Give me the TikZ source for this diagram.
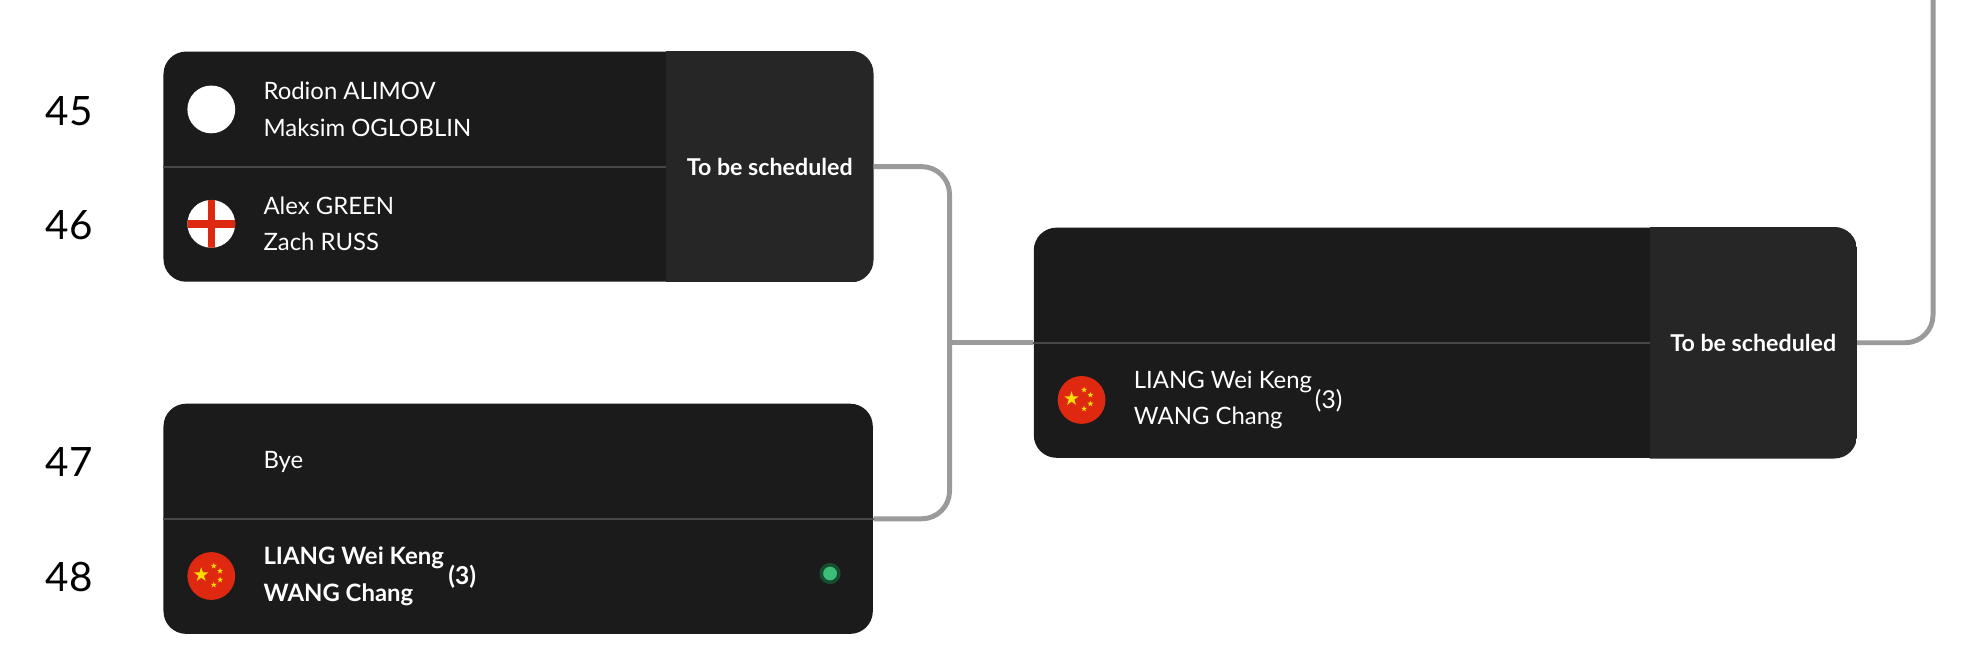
\documentclass[tikz,border=0pt]{standalone}
\usepackage{fontspec}
\setmainfont{Lato}
\usetikzlibrary{positioning, shapes.geometric}
\newcommand\px{0.012577cm}
\definecolor{cardbg}{HTML}{1B1B1B}
\definecolor{panelbg}{HTML}{262626}
\definecolor{rulegray}{HTML}{474747}
\definecolor{linkgray}{HTML}{9A9A9A}
\definecolor{flagred}{HTML}{DE2910}
\definecolor{flagyel}{HTML}{FFDE00}
\definecolor{dotgreen}{HTML}{3DBE78}
\tikzset{
  card/.style={fill=cardbg, rounded corners=18*\px, minimum width=#1*\px, minimum height=183*\px, inner sep=0pt},
  link/.style={draw=linkgray, line width=1.4pt, rounded corners=22*\px},
  player/.style={anchor=west, text=white, align=left, inner sep=0pt, font=\fontsize{6.8}{10.4}\selectfont},
  seednum/.style={anchor=west, text=white, inner sep=0pt, font=\fontsize{7}{8}\selectfont},
  slot/.style={text=black, inner sep=0pt, font=\fontsize{11.5}{13}\selectfont},
  status/.style={text=white, inner sep=0pt, font=\bfseries\fontsize{6.6}{8}\selectfont},
  flag/.style={circle, minimum size=38*\px, inner sep=0pt},
  bigstar/.style={star, star points=5, star point ratio=2.6, fill=flagyel, inner sep=0pt, minimum size=12*\px},
  tinystar/.style={star, star points=5, star point ratio=2.6, fill=flagyel, inner sep=0pt, minimum size=5*\px}
}
\newcommand\chinaflag[2]{%
  \node[flag, fill=flagred] (#1) at (#2) {};
  \node[bigstar] at ([xshift=-8*\px,yshift=1*\px]#1.center) {};
  \node[tinystar] at ([xshift=2*\px,yshift=8*\px]#1.center) {};
  \node[tinystar] at ([xshift=7*\px,yshift=4*\px]#1.center) {};
  \node[tinystar] at ([xshift=7*\px,yshift=-3*\px]#1.center) {};
  \node[tinystar] at ([xshift=2*\px,yshift=-7*\px]#1.center) {};
}
\begin{document}
\begin{tikzpicture}[x=\px, y=-\px]
\useasboundingbox[fill=white] (0,0) rectangle (1568,534.3);

% match cards
\node[card=564] (m1) at (412,132.5) {};
\node[card=564] (m2) at (412,412.5) {};
\node[card=654] (m3) at (1149,272.5) {};

% status panels and row rules
\foreach \m/\w in {m1/564, m3/654} {
  \begin{scope}
    \clip[rounded corners=18*\px] (\m.south west) rectangle (\m.north east);
    \fill[panelbg] ([xshift=-165*\px]\m.north east) rectangle (\m.south east);
  \end{scope}
  \draw[rulegray, line width=0.6pt] (\m.west) -- ([xshift=-165*\px]\m.east);
  \node[status] at ([xshift=-82.5*\px]\m.east) {To be scheduled};
}
\draw[rulegray, line width=0.6pt] (m2.west) -- (m2.east);

% connectors
\coordinate (jn) at (755,272.5);
\coordinate (up) at (1537,-2);
\draw[link] (m1.east) -| (jn) |- (m2.east);
\draw[link] (jn) -- (m3.west);
\draw[link] (m3.east) -| (up);

% draw slots
\node[slot] (s45) at (55,88) {45};
\node[slot] (s46) at (55,179) {46};
\node[slot] (s47) at (55,367) {47};
\node[slot] (s48) at (55,459) {48};

% flags
\node[flag, fill=white] (f45) at (168,87) {};
\node[flag, fill=white] (f46) at (168,178) {};
\begin{scope}
  \clip (f46.center) circle (19*\px);
  \fill[flagred] (165,158) rectangle (171,198);
  \fill[flagred] (148,175) rectangle (188,181);
\end{scope}
\chinaflag{f48}{168,458}
\chinaflag{f3b}{860,318}

% players
\node[player] (p45) at (209,87) {Rodion ALIMOV\\Maksim OGLOBLIN};
\node[player] (p46) at (209,178) {Alex GREEN\\Zach RUSS};
\node[player] (p47) at (209,367) {Bye};
\node[player, font=\bfseries\fontsize{6.8}{10.4}\selectfont] (p48) at (209,458) {LIANG Wei Keng\\WANG Chang};
\node[seednum, font=\bfseries\fontsize{7}{8}\selectfont] (k48) at (356,459) {(3)};
\node[player] (p3b) at (901,318) {LIANG Wei Keng\\WANG Chang};
\node[seednum] (k3b) at (1045,319) {(3)};

% winner marker
\node[circle, fill=dotgreen, draw=dotgreen!40!black, line width=1pt, minimum size=14*\px, inner sep=0pt] (win) at (660,456) {};
\end{tikzpicture}
\end{document}
